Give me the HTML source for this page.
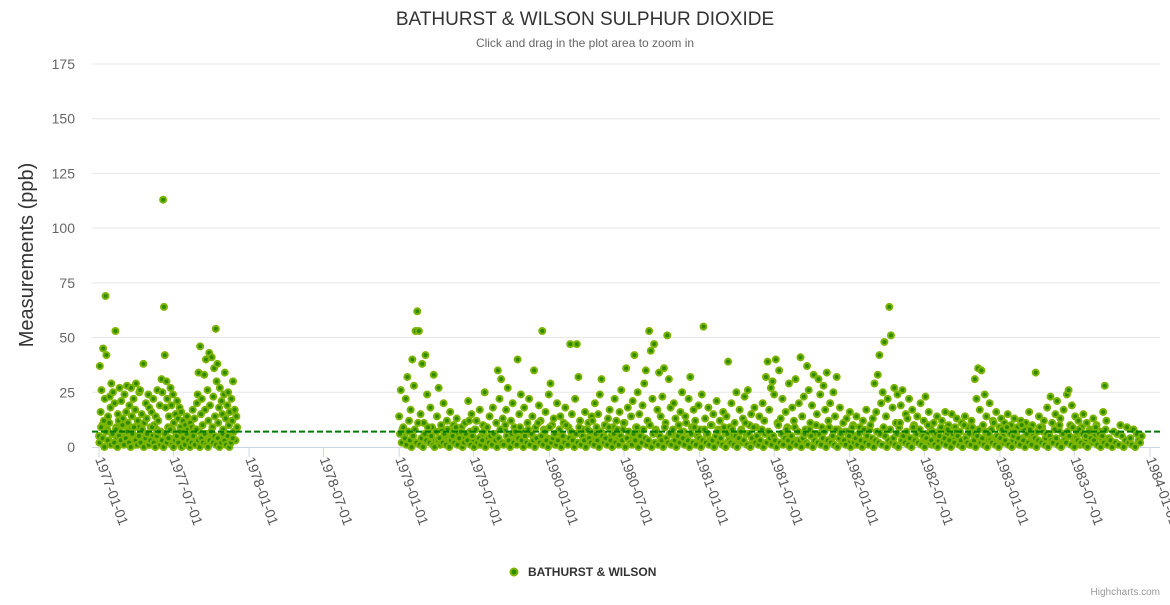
<!DOCTYPE html>
<html><head><meta charset="utf-8"><style>
html,body{margin:0;padding:0;background:#fff;}
svg text{font-family:"Liberation Sans",sans-serif;}
</style></head><body>
<svg id="chart" width="1170" height="600" xmlns="http://www.w3.org/2000/svg">
<rect width="1170" height="600" fill="#fff"/>
<text x="585" y="25" text-anchor="middle" font-size="19" fill="#333">BATHURST &amp; WILSON SULPHUR DIOXIDE</text>
<text x="585" y="47" text-anchor="middle" font-size="12" fill="#666">Click and drag in the plot area to zoom in</text>
<text transform="translate(33,255) rotate(-90)" text-anchor="middle" font-size="20" fill="#333">Measurements (ppb)</text>
<g id="grid"></g><g id="xaxis"></g><g id="points"></g><g id="plotline"></g>
<g>
<circle cx="514" cy="572" r="3.5" fill="#2f8a00" stroke="#7cb500" stroke-width="2"/>
<text x="528" y="576" font-size="12" font-weight="bold" fill="#333">BATHURST &amp; WILSON</text>
</g>
<text x="1160" y="595" text-anchor="end" font-size="10" fill="#999">Highcharts.com</text>
</svg>
<script>
const yTicks=[0,25,50,75,100,125,150,175];
const xTickLabels=["1977-01-01","1977-07-01","1978-01-01","1978-07-01","1979-01-01","1979-07-01","1980-01-01","1980-07-01","1981-01-01","1981-07-01","1982-01-01","1982-07-01","1983-01-01","1983-07-01","1984-01-01"];
const thresholdValue=7;
const seriesAStart="1977-01-01";
const seriesAStepDays=2;
const seriesAValues=[5,37,16,26,10,45,12,22,69,42,8,14,3,23,18,29,6,25,1,20,53,9,4,15,12,27,7,21,2,13,10,24,5,16,28,11,3,19,8,27,14,6,22,1,17,29,4,12,9,25,26,2,15,7,38,11,3,20,13,6,24,18,1,9,16,5,22,10,3,14,8,26,12,2,19,7,31,25,113,64,42,18,30,22,9,14,4,27,19,8,24,11,2,15,6,21,13,3,18,9,16,5,12,7,1,10,4,14,8,2,6,11,3,9,17,5,13,8,1,20,24,34,7,46,15,22,10,3,33,17,40,6,26,12,43,19,4,41,9,23,36,14,54,30,38,11,18,27,5,21,15,8,24,34,13,6,19,25,10,16,4,22,12,30,7,17,3,14,9];
const seriesAExtraStart="1977-01-02";
const seriesAExtraStepDays=4;
const seriesAExtraValues=[2,9,4,0,7,3,11,1,6,2,8,0,5,3,10,1,4,7,2,0,6,9,3,1,5,2,8,0,4,6,1,3,9,2,0,5,7,1,3,0,6,2,4,8,1,0,3,5,2,7,0,4,1,6,3,0,2,5,1,8,3,0,4,2,6,1,0,3,7,2,5,1,4,0,2,6,3,1,5,0,2,4];
const seriesBStart="1979-01-01";
const seriesBStepDays=4;
const seriesBValues=[14,26,8,5,22,32,12,17,40,28,53,62,53,15,38,11,42,24,6,18,9,33,3,14,27,1,8,20,5,12,2,16,7,10,3,13,6,1,9,4,11,2,21,7,15,3,8,12,1,17,5,10,25,9,4,14,2,18,6,11,35,22,31,13,8,17,27,3,12,20,9,5,40,15,24,7,18,2,11,22,6,14,35,9,3,19,12,53,8,16,4,24,29,10,13,1,20,7,14,5,11,18,3,9,47,15,6,22,47,32,12,2,8,16,4,11,7,14,3,20,9,15,24,31,6,10,2,13,17,5,9,22,12,3,16,26,8,11,36,18,4,14,21,42,9,25,15,7,19,29,35,12,53,44,22,47,8,17,34,14,23,36,11,51,31,18,6,20,13,3,10,16,25,7,14,4,22,32,9,17,12,2,19,8,24,55,13,6,18,3,10,15,4,21,8,12,2,16,7,14,39,9,20,5,11,25,3,17,8,13,23,6,26,10,15,2,18,9,4,14,7,20,12,32,39,17,27,30,24,40,11,35,13,22,6,16,9,29,5,18,12,31,3,20,41,14,23,8,37,26,11,19,33,6,15,31,24,9,28,17,34,12,20,4,25,14,32,8,18,3,11,7,13,2,16,6,10,1,14,5,9,3,12,7,17,4,8,2,13,29,16,33,42,20,25,48,14,22,64,51,18,27,11,24,9,19,26,6,15,13,22,4,17,10,3,14,8,20,2,12,23,6,16,9,1,11,5,14,3,8,12,2,16,6,10,1,15,4,9,13,3,7,11,2,14,5,9,1,12,6,31,22,36,17,35,10,24,14,3,20,8,12,4,16,1,9,13,5,11,2,15,7,10,3,13,6,9,1,12,4,8,11,2,16,5,10,3,34,7,14,2,9,12,4,18,6,23,11,3,15,21,8,13,2,17,5,24,26,10,19,4,14,7,12,1,9,15,3,11,6,8,2,13,5,10,1,7,4,16,28,12,3];
const seriesBExtraStart="1979-01-03";
const seriesBExtraStepDays=4;
const seriesBExtraValues=[6,2,9,4,1,7,3,0,5,8,2,11,1,4,0,6,3,9,2,5,1,0,7,3,4,10,2,6,1,8,0,3,5,2,9,1,4,7,0,2,6,3,12,1,5,0,8,2,4,1,3,7,0,9,2,5,1,6,3,0,4,8,2,1,10,5,3,0,6,2,7,1,4,9,3,0,5,2,8,1,6,3,0,4,11,2,5,1,7,3,0,9,2,4,6,1,3,8,0,5,2,10,1,4,7,3,0,6,2,9,1,5,3,0,8,4,2,12,1,6,3,0,7,5,2,4,1,9,3,0,6,2,8,1,5,3,11,0,4,7,2,1,6,3,9,0,5,2,8,4,1,3,10,0,6,2,7,1,5,3,0,9,4,2,6,1,8,3,0,5,2,7,4,1,11,3,0,6,2,9,1,5,4,0,3,8,2,6,1,10,3,0,5,7,2,4,1,9,0,6,3,2,8,1,5,0,4,7,2,3,11,1,6,0,4,9,2,5,1,3,8,0,6,2,7,4,1,5,3,0,10,2,6,1,4,8,3,0,5,2,9,1,7,3,0,4,6,2,1,8,5,0,3,10,2,6,1,4,7,0,3,9,2,5,1,8,0,4,6,2,3,1,7,5,0,9,2,4,1,6,3,0,8,2,5,1,10,4,0,3,7,2,6,1,9,5,0,3,8,2,4,1,6,0,11,3,5,2,7,1,4,0,9,3,6,2,8,1,5,0,4,10,2,3,7,1,6,0,5,9,2,4,1,8,3,0,6,2,7,5,1,3,0,10,4,2,6,1,9,3,0,5,8,2,4,1,7,0,6,3,2,11,1,5,0,4,8,2,3,9,1,6,0,5,7,2,4,1,10,3,0,6,2,8,1,5,4,0,3,9,2,7,1,6,0,5,3,2,8,4,1,10,0,6,3,2,7,5,1,9,0,4,3,8,2,6,1,5,0,7,4,2,3,9,1,6,0,5,2,8,1,4,3,0,7,2,6,1,10,5,0,3,9,2,4,1,8,0,6,3,2,5];
const xLeft=99, xRight=1150, yZero=447, yTop=64, yMax=175, plotL=92, plotR=1160;
const t0=Date.parse("1977-01-01"), t1=Date.parse("1984-01-01");
function xScale(t){return xLeft+(t-t0)/(t1-t0)*(xRight-xLeft);}
function yScale(v){return yZero-v/yMax*(yZero-yTop);}
const NS="http://www.w3.org/2000/svg";
function mk(tag,attrs,parent){const e=document.createElementNS(NS,tag);for(const k in attrs)e.setAttribute(k,attrs[k]);parent.appendChild(e);return e;}
const grid=document.getElementById('grid');
yTicks.forEach(v=>{
  const y=yScale(v);
  if(v>0){const l=mk('line',{x1:plotL,x2:plotR,y1:y,y2:y,stroke:'#e6e6e6','stroke-width':1},grid);
  
  }
  const t=mk('text',{x:75,y:y+5,'text-anchor':'end','font-size':14,fill:'#666'},grid);
  t.textContent=v;
  
  
});
const xa=document.getElementById('xaxis');
const ax=mk('line',{x1:plotL,x2:plotR,y1:yZero+0.5,y2:yZero+0.5,stroke:'#ccd6eb','stroke-width':1},xa);


xTickLabels.forEach(s=>{
  const x=xScale(Date.parse(s));
  const tk=mk('line',{x1:x,x2:x,y1:yZero,y2:yZero+10,stroke:'#ccd6eb'},xa);
  
  
  const t=mk('text',{transform:`translate(${x-4},${yZero+12}) rotate(70)`,'font-size':14,fill:'#555'},xa);
  t.textContent=s;
  
  
});
const pts=document.getElementById('points');
function drawSeries(start,step,vals){
  const s=Date.parse(start);
  vals.forEach((v,i)=>{
    const t=s+i*step*86400000;
    const c=mk('circle',{cx:xScale(t),cy:yScale(v),r:3,fill:'#2f8a00',stroke:'#7cb500','stroke-width':2},pts);
    
    
  });
}
drawSeries(seriesAStart,seriesAStepDays,seriesAValues);
drawSeries(seriesAExtraStart,seriesAExtraStepDays,seriesAExtraValues);
drawSeries(seriesBStart,seriesBStepDays,seriesBValues);
drawSeries(seriesBExtraStart,seriesBExtraStepDays,seriesBExtraValues);
const pl=mk('line',{x1:plotL,x2:plotR,y1:yScale(thresholdValue),y2:yScale(thresholdValue),stroke:'#007a00','stroke-width':2,'stroke-dasharray':'6,3'},document.getElementById('plotline'));


</script>
</body></html>
